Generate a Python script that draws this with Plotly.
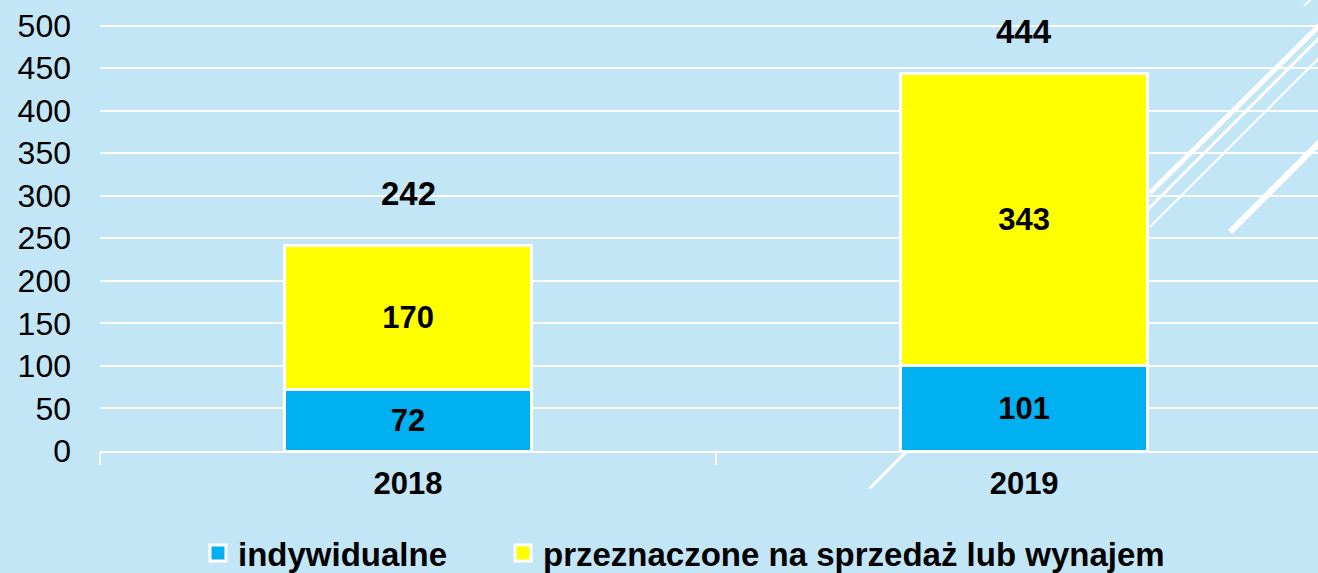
import plotly.graph_objects as go

years = ["2018", "2019"]
indywidualne = [72, 101]
sprzedaz = [170, 343]
totals = [a + b for a, b in zip(indywidualne, sprzedaz)]
series_names = ["indywidualne", "przeznaczone na sprzedaż lub wynajem"]
y_ticks = [0, 50, 100, 150, 200, 250, 300, 350, 400, 450, 500]

BG = "#C3E6F7"
BLUE = "#00B0F0"
YELLOW = "#FFFF00"
FONT = "Liberation Sans"

W, H = 1318, 573
ML, MR, MT, MB = 100, 0, 0, 122

fig = go.Figure()
for vals, name, col in [(indywidualne, series_names[0], BLUE), (sprzedaz, series_names[1], YELLOW)]:
    fig.add_trace(go.Bar(
        x=years, y=vals, name=name, showlegend=False,
        marker=dict(color=col, line=dict(color="white", width=3)),
        text=vals, textposition="inside", insidetextanchor="middle",
        textfont=dict(color="black", size=31, family=FONT, weight="bold"),
        width=0.4,
    ))
# legend entries with larger square markers (two legends for custom spacing)
for name, col, lg in [(series_names[0], BLUE, "legend"), (series_names[1], YELLOW, "legend2")]:
    fig.add_trace(go.Scatter(
        x=[None], y=[None], mode="markers", name=name, legend=lg,
        marker=dict(symbol="square", size=16, color=col, line=dict(color="white", width=3)),
    ))

# total labels above stacks
shifts = [52, 42]
for i, (t, s) in enumerate(zip(totals, shifts)):
    fig.add_annotation(x=i, y=t, xref="x", yref="y", text=str(t), showarrow=False, yshift=s,
                       font=dict(color="black", size=33, family=FONT, weight="bold"))

# decorative slide lines (pixel -> paper)
pw = W - ML - MR
ph = H - MT - MB
def px(x):
    return (x - ML) / pw
def py(y):
    return (H - MB - y) / ph

deco = [
    ((1150, 193), (1330, 15), 5),
    ((870, 488), (1330, 27), 3),
    ((1150, 227), (1330, 47), 2),
    ((1230, 232), (1330, 132), 6),
    ((1304, 6), (1312, -2), 2),
]
for (x0, y0), (x1, y1), w in deco:
    fig.add_shape(type="line", xref="paper", yref="paper",
                  x0=px(x0), y0=py(y0), x1=px(x1), y1=py(y1),
                  line=dict(color="white", width=w), layer="below")

legend_common = dict(orientation="h", xanchor="left", xref="container",
                     yref="container", y=20 / H, yanchor="middle",
                     font=dict(size=33, family=FONT, weight="bold"),
                     bgcolor="rgba(0,0,0,0)", itemwidth=30)

fig.update_layout(
    width=W, height=H,
    margin=dict(l=ML, r=MR, t=MT, b=MB, autoexpand=False),
    barmode="stack",
    paper_bgcolor=BG, plot_bgcolor=BG,
    font=dict(family=FONT, color="black"),
    showlegend=True,
    legend=dict(x=198 / W, **legend_common),
    legend2=dict(x=503 / W, **legend_common),
    xaxis=dict(
        type="category",
        range=[-0.5, 1.477], showgrid=False,
        showline=True, linecolor="white", linewidth=2,
        ticks="outside", tickson="boundaries", ticklen=12, tickcolor="white", tickwidth=2,
        tickfont=dict(size=31, family=FONT, weight="bold", color="black"),
        ticklabelstandoff=4, automargin=False,
    ),
    yaxis=dict(
        range=[0, 530], tickvals=y_ticks,
        showgrid=True, gridcolor="white", gridwidth=2,
        zeroline=False, showline=False,
        tickfont=dict(size=32, family=FONT, color="black"),
        ticklabelstandoff=28, automargin=False,
    ),
)

fig.write_html("out.html", config={"displayModeBar": False},
               post_script="document.body.style.margin='0';document.body.style.background='%s';" % BG)
